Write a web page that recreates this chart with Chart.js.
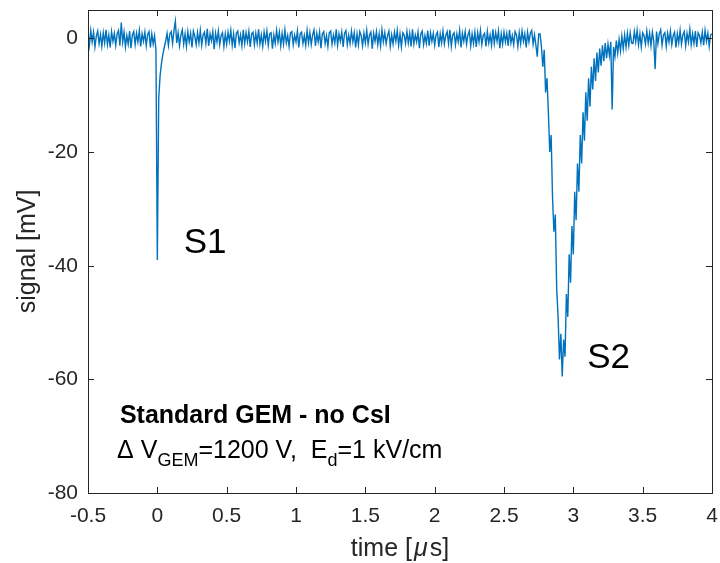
<!DOCTYPE html>
<html>
<head>
<meta charset="utf-8">
<script src="https://cdn.jsdelivr.net/npm/chart.js@4/dist/chart.umd.min.js"></script>
<style>
  html, body { margin: 0; padding: 0; background: #fff; }
  #wrap { width: 720px; height: 563px; position: relative; }
</style>
</head>
<body>
<div id="wrap"><canvas id="scope"></canvas></div>
<script>
// ── Data (mV), sampled every DT µs; each segment starts at its own time ──
const DT = 0.01;

// baseline before the trigger, t = -0.50 … -0.01
const preT0 = -0.50;
const preSignal = [
  0.9,-1.2,1.4,-0.6,1.1,-1.5,0.4,1.3,-0.9,0.7,
  -1.4,1.0,-0.8,1.5,-1.1,0.6,-1.6,1.2,-0.5,0.9,
  -1.2,0.8,1.4,-1.3,2.8,-0.7,1.1,-1.5,0.5,-1.0,
  1.3,-1.7,0.6,1.2,-1.1,0.9,-0.6,1.4,-1.4,0.8,
  -0.5,1.1,-1.3,0.7,1.2,-1.6,0.8,-1.0,0.5,-2.0
];

// S1 peak, t = 0.00 … 0.09
const s1T0 = 0.00;
const s1Signal = [-39.0,-10.5,-6.5,-4.4,-2.8,-1.6,-0.5,0.9,-1.2,0.8];

// drift region, t = 0.10 … 2.75
const midT0 = 0.10;
const midSignal = [
  1.2,-0.9,1.4,3.0,-0.8,1.0,-1.3,0.6,1.5,-1.0,
  0.8,-1.4,1.2,-0.6,0.9,-1.6,1.3,0.4,-1.1,1.0,
  -0.8,1.4,-1.2,0.6,1.1,-0.9,1.7,-1.3,0.8,-0.4,
  1.2,-1.9,0.9,-0.6,1.3,-1.1,0.5,1.0,-1.4,0.8,
  -1.0,1.1,-0.5,1.4,-1.2,0.8,-1.7,0.9,1.3,-0.8,
  0.6,-1.3,1.5,-0.9,1.0,-0.6,1.2,-1.5,0.8,1.1,
  -1.1,0.9,-0.8,1.6,-1.0,0.6,-1.4,1.1,-0.5,1.3,
  -1.2,0.8,1.0,-1.8,0.6,-0.9,1.4,-0.6,1.1,-1.3,
  0.9,-1.0,1.5,-0.8,0.5,-1.4,1.0,1.2,-1.1,0.6,
  -0.6,1.3,-1.6,0.8,1.1,-0.9,0.5,-1.2,1.4,-0.8,
  1.0,-1.1,0.6,1.5,-1.3,0.9,-0.6,1.1,-1.7,0.8,
  1.2,-0.9,0.5,-1.4,1.0,1.3,-1.0,0.6,-0.8,1.6,
  -1.2,0.8,-0.5,1.1,-1.5,0.9,1.4,-1.1,0.6,-0.9,
  1.3,-0.6,1.0,-1.6,0.8,-1.1,1.2,0.5,-1.3,0.9,
  -0.8,1.4,-1.0,0.6,1.1,-1.8,0.9,-0.5,1.2,-1.1,
  0.8,-1.3,1.5,-0.6,1.0,-0.9,0.5,1.3,-1.4,0.6,
  -1.0,1.1,-0.5,1.4,-1.2,0.8,-1.5,1.0,0.6,-0.9,
  1.2,-0.8,0.9,-1.4,1.6,-1.0,0.6,-0.6,1.1,-1.7,
  0.8,1.3,-1.1,0.5,-0.9,1.4,-1.3,1.0,-0.5,0.9,
  -1.2,0.6,1.1,-1.5,0.8,-0.8,1.3,-1.0,0.5,1.2,
  -0.9,1.5,-1.4,0.6,1.0,-1.1,0.8,-0.6,1.4,-1.6,
  0.9,-0.5,1.2,-1.0,0.6,1.3,-1.3,0.8,-0.9,1.1,
  -1.5,1.0,-0.6,1.4,-1.1,0.5,0.9,-1.4,1.2,-0.8,
  0.6,-1.2,1.6,-0.9,1.0,-0.5,1.3,-1.7,0.8,-1.0,
  1.1,-0.6,0.9,-1.3,1.5,-0.8,0.5,-1.1,1.2,0.6,
  -1.4,1.0,-0.9,1.3,-0.5,0.8,-1.6,1.1,-0.6,0.9,
  1.4,-1.0,0.6,-1.2,-3.2,0.8
];

// S2 pulse, t = 2.76 … 3.42
const s2T0 = 2.76;
const s2Signal = [
  0.8,-1.5,-5.0,-2.0,-9.5,-7.0,-13.0,-20.0,-17.0,-28.0,
  -34.0,-31.0,-44.0,-49.0,-56.5,-52.0,-59.5,-53.0,-56.0,-45.0,
  -49.0,-38.0,-43.0,-33.0,-38.0,-27.0,-32.0,-22.0,-27.0,-17.0,
  -22.0,-13.0,-18.0,-9.5,-14.5,-7.0,-12.0,-5.0,-9.0,-3.5,
  -7.5,-2.5,-6.0,-1.8,-4.8,-1.2,-4.0,-0.8,-3.5,-1.0,
  -3.0,-0.6,-12.5,-1.5,-3.2,-0.4,-2.6,-0.2,-2.2,0.4,
  -1.8,0.6,-1.5,0.9,-1.2,1.0,-0.8
];

// tail, t = 3.43 … 4.00
const tailT0 = 3.43;
const tailSignal = [
  -0.9,1.2,-0.6,1.4,-1.1,0.8,-1.5,1.0,0.5,-1.0,
  1.3,-0.8,0.9,-1.3,1.1,-0.5,-5.4,1.2,-0.9,0.8,
  1.5,-1.2,0.6,1.0,-1.4,0.9,-0.6,1.3,-1.1,0.5,
  1.1,-1.6,0.8,-0.8,1.4,-1.0,0.6,1.2,-1.3,0.9,
  -0.6,1.6,-1.1,0.8,-0.9,1.3,-1.5,1.0,0.5,-0.8,
  1.1,-1.2,1.4,-0.5,0.9,-1.4,0.6,0.8
];

const xTicks = [-0.5, 0, 0.5, 1, 1.5, 2, 2.5, 3, 3.5, 4];
const yTicks = [-80, -60, -40, -20, 0];

// ── Build points ──
function seg(t0, vals) {
  return vals.map((v, i) => ({ x: Math.round((t0 + i * DT) * 1000) / 1000, y: v }));
}
const points = [].concat(
  seg(preT0, preSignal), seg(s1T0, s1Signal), seg(midT0, midSignal),
  seg(s2T0, s2Signal), seg(tailT0, tailSignal)
);

const AXIS = '#262626';
const FONT = "'Liberation Sans', Arial, Helvetica, sans-serif";

// ── Inward ticks, full box, labels ──
const matlabFrame = {
  id: 'matlabFrame',
  afterDatasetsDraw(chart) {
    const { ctx, chartArea: a, scales: { x, y } } = chart;
    const L = 6;
    ctx.save();
    ctx.strokeStyle = AXIS;
    ctx.lineWidth = 1;
    ctx.beginPath();
    xTicks.forEach(v => {
      const px = Math.round(x.getPixelForValue(v)) + 0.5;
      ctx.moveTo(px, a.bottom); ctx.lineTo(px, a.bottom - L);
      ctx.moveTo(px, a.top); ctx.lineTo(px, a.top + L);
    });
    yTicks.forEach(v => {
      const py = Math.round(y.getPixelForValue(v)) + 0.5;
      ctx.moveTo(a.left, py); ctx.lineTo(a.left + L, py);
      ctx.moveTo(a.right, py); ctx.lineTo(a.right - L, py);
    });
    ctx.stroke();
    ctx.strokeRect(Math.round(a.left) + 0.5, Math.round(a.top) + 0.5,
                   Math.round(a.right - a.left), Math.round(a.bottom - a.top));

    // peak labels
    ctx.fillStyle = '#000';
    ctx.textBaseline = 'alphabetic';
    ctx.textAlign = 'left';
    ctx.font = '35px ' + FONT;
    ctx.fillText('S1', x.getPixelForValue(0.19), y.getPixelForValue(-37.8));
    ctx.fillText('S2', x.getPixelForValue(3.10), y.getPixelForValue(-58.0));

    // annotation
    ctx.font = 'bold 25px ' + FONT;
    ctx.fillText('Standard GEM - no CsI', x.getPixelForValue(-0.27), y.getPixelForValue(-67.7));
    let cx = x.getPixelForValue(-0.29);
    const by = y.getPixelForValue(-73.8);
    const parts = [
      ['Δ V', 0], ['GEM', 1], ['=1200 V,  E', 0], ['d', 1], ['=1 kV/cm', 0]
    ];
    parts.forEach(([s, sub]) => {
      ctx.font = (sub ? '18px ' : '25px ') + FONT;
      ctx.fillText(s, cx, sub ? by + 8 : by);
      cx += ctx.measureText(s).width;
    });

    // axis titles
    ctx.fillStyle = AXIS;
    const xl = [['time [', '25px '], ['\u03BC', 'italic 25px '], ['s]', '25px ']];
    let w = 0;
    xl.forEach(([s, f]) => { ctx.font = f + FONT; w += ctx.measureText(s).width + (f.startsWith('italic') ? 4 : 0); });
    let lx = (a.left + a.right) / 2 - w / 2;
    xl.forEach(([s, f]) => {
      ctx.font = f + FONT;
      const it = f.startsWith('italic');
      ctx.fillText(s, lx + (it ? 2 : 0), 556);
      lx += ctx.measureText(s).width + (it ? 4 : 0);
    });
    ctx.font = '25px ' + FONT;
    ctx.textAlign = 'center';
    ctx.translate(35, (a.top + a.bottom) / 2);
    ctx.rotate(-Math.PI / 2);
    ctx.fillText('signal [mV]', 0, 0);
    ctx.restore();
  }
};

new Chart(document.getElementById('scope'), {
  type: 'line',
  data: {
    datasets: [{
      data: points,
      borderColor: '#0072BD',
      borderWidth: 1.4,
      pointRadius: 0,
      tension: 0,
      fill: false
    }]
  },
  options: {
    responsive: true, maintainAspectRatio: false, animation: false,
    layout: { padding: { top: 10, right: 8, left: 0, bottom: 0 } },
    plugins: { legend: { display: false }, tooltip: { enabled: false } },
    scales: {
      x: {
        type: 'linear', min: -0.5, max: 4,
        afterFit: s => { s.height = 70; s.paddingLeft = 0; s.paddingRight = 0; },
        afterBuildTicks: s => { s.ticks = xTicks.map(v => ({ value: v })); },
        grid: { display: false, drawTicks: false },
        border: { display: false },
        ticks: { color: AXIS, font: { family: FONT, size: 21 }, padding: 11, maxRotation: 0, autoSkip: false,
                 callback: v => String(v) }
      },
      y: {
        type: 'linear', min: -80, max: 5,
        afterFit: s => { s.width = 88; s.paddingTop = 0; s.paddingBottom = 0; },
        afterBuildTicks: s => { s.ticks = yTicks.map(v => ({ value: v })); },
        grid: { display: false, drawTicks: false },
        border: { display: false },
        ticks: { color: AXIS, font: { family: FONT, size: 21 }, padding: 10, autoSkip: false,
                 callback: v => String(v) }
      }
    }
  },
  plugins: [matlabFrame]
});
</script>
</body>
</html>
